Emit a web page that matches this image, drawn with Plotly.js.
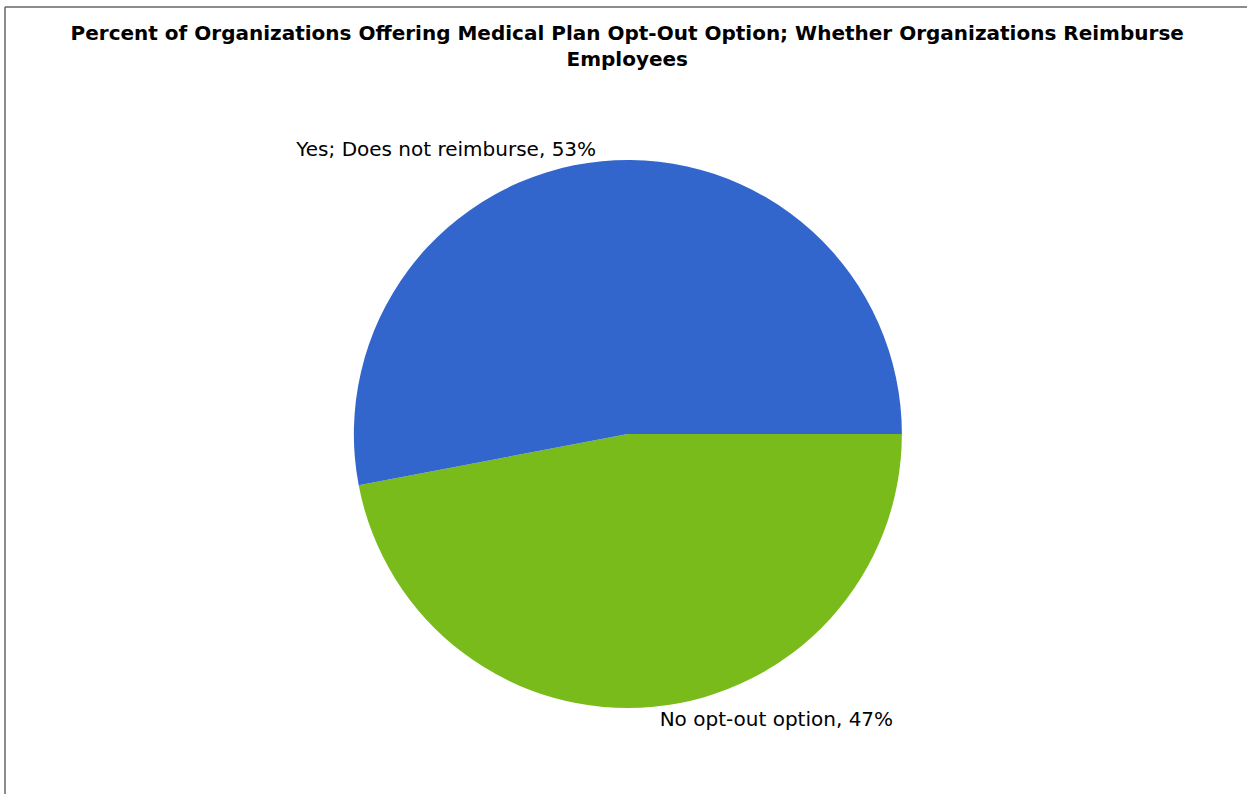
<!DOCTYPE html>
<html>
<head>
<meta charset="utf-8">
<script src="https://cdn.plot.ly/plotly-3.0.1.min.js"></script>
<style>
html,body{margin:0;padding:0;background:#fff;}
#chart{width:1247px;height:794px;}
</style>
</head>
<body>
<div id="chart"></div>
<script>
const categories = ["No opt-out option", "Yes; Does not reimburse"];
const percents = [47, 53];
const colors = ["#7ABB1C", "#3366CC"];
const chartTitle = "Percent of Organizations Offering Medical Plan Opt-Out Option; Whether Organizations Reimburse<br>Employees";

const trace = {
  type: "pie",
  labels: categories,
  values: percents,
  sort: false,
  direction: "clockwise",
  rotation: 90,
  marker: {colors: colors, line: {width: 0}},
  textposition: "outside",
  texttemplate: "%{label}, %{value}%",
  textfont: {family: "DejaVu Sans", size: 20, color: "#000"},
  outsidetextfont: {family: "DejaVu Sans", size: 20, color: "#000"},
  automargin: false,
  showlegend: false,
  hoverinfo: "label+percent",
  domain: {x: [0.104, 0.903], y: [0.1083, 0.7985]}
};

const layout = {
  width: 1247,
  height: 794,
  margin: {l: 0, r: 0, t: 0, b: 0},
  paper_bgcolor: "#fff",
  title: {
    text: "<b>" + chartTitle + "</b>",
    font: {family: "DejaVu Sans", size: 20, color: "#000"},
    x: 0.503, xanchor: "center",
    y: 0.95, yanchor: "top"
  },
  shapes: [
    {type: "line", xref: "paper", yref: "paper", x0: 5/1247, x1: 5/1247, y0: 0, y1: 1 - 7/794, line: {color: "#666", width: 1.5}},
    {type: "line", xref: "paper", yref: "paper", x0: 5/1247, x1: 1, y0: 1 - 7/794, y1: 1 - 7/794, line: {color: "#666", width: 1.5}}
  ]
};

Plotly.newPlot("chart", [trace], layout, {displayModeBar: false, staticPlot: true});
</script>
</body>
</html>
